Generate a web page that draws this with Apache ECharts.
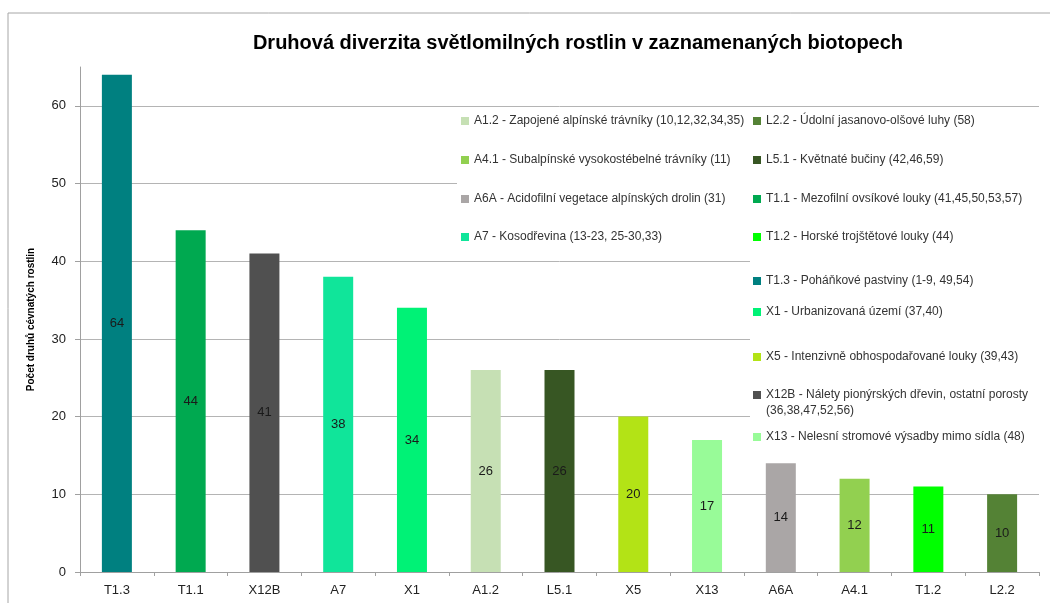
<!DOCTYPE html>
<html>
<head>
<meta charset="utf-8">
<script src="https://cdn.jsdelivr.net/npm/echarts@6/dist/echarts.min.js"></script>
<style>
  html, body { margin: 0; padding: 0; background: #fff; }
  #chart { width: 1050px; height: 603px; }
</style>
</head>
<body>
<div id="chart"></div>
<script>
// Biotope codes, in the order the bars are drawn
const categories = ['T1.3', 'T1.1', 'X12B', 'A7', 'X1', 'A1.2', 'L5.1', 'X5', 'X13', 'A6A', 'A4.1', 'T1.2', 'L2.2'];
// Number of vascular plant species per biotope
const values = [64, 44, 41, 38, 34, 26, 26, 20, 17, 14, 12, 11, 10];
// Bar colour per biotope
const barColors = ['#008080', '#00A950', '#505050', '#10E59A', '#00F276', '#C6E0B4', '#375623', '#B3E316', '#98FB98', '#AAA6A6', '#92D050', '#00FF00', '#548235'];
// Full biotope names shown in the legend
const biotopeNames = {
  'A1.2': 'A1.2 - Zapojené alpínské trávníky (10,12,32,34,35)',
  'A4.1': 'A4.1 - Subalpínské vysokostébelné trávníky (11)',
  'A6A': 'A6A - Acidofilní vegetace alpínských drolin (31)',
  'A7': 'A7 - Kosodřevina (13-23, 25-30,33)',
  'L2.2': 'L2.2 - Údolní jasanovo-olšové luhy (58)',
  'L5.1': 'L5.1 - Květnaté bučiny (42,46,59)',
  'T1.1': 'T1.1 - Mezofilní ovsíkové louky (41,45,50,53,57)',
  'T1.2': 'T1.2 - Horské trojštětové louky (44)',
  'T1.3': 'T1.3 - Poháňkové pastviny (1-9, 49,54)',
  'X1': 'X1 - Urbanizovaná území (37,40)',
  'X5': 'X5 - Intenzivně obhospodařované louky (39,43)',
  'X12B': 'X12B - Nálety pionýrských dřevin, ostatní porosty\n(36,38,47,52,56)',
  'X13': 'X13 - Nelesní stromové výsadby mimo sídla (48)'
};
// Y axis ticks
const yTicks = { min: 0, max: 65, interval: 10 };

// Legend layout: [code, left, icon centre y]
const legendLayout = [
  ['A1.2', 461, 122], ['A4.1', 461, 161], ['A6A', 461, 200], ['A7', 461, 238],
  ['L2.2', 753, 122], ['L5.1', 753, 161], ['T1.1', 753, 200], ['T1.2', 753, 238],
  ['T1.3', 753, 282], ['X1', 753, 313], ['X5', 753, 358], ['X12B', 753, 395], ['X13', 753, 438]
];

const FONT = '"Liberation Sans", Arial, sans-serif';

const series = categories.map((code, i) => ({
  type: 'bar',
  name: biotopeNames[code],
  data: values.map((v, j) => (j === i ? v : '-')),
  barWidth: 30,
  barGap: '-100%',
  itemStyle: { color: barColors[i] },
  label: { show: true, position: 'inside', color: '#1a1a1a', fontSize: 13, fontFamily: FONT },
  emphasis: { disabled: true }
}));

const legends = legendLayout.map(([code, left, cy]) => {
  const twoLine = biotopeNames[code].indexOf('\n') >= 0;
  const ts = { fontSize: 12, color: '#333', fontFamily: FONT };
  if (twoLine) ts.lineHeight = 16;
  return {
    data: [biotopeNames[code]],
    // a wrapped name keeps its first line level with the marker
    formatter: twoLine ? (name) => ' \n' + name : undefined,
    left: left,
    top: twoLine ? cy - 24 : cy - 7,
    orient: 'vertical',
    padding: 0,
    itemWidth: 8,
    itemHeight: 8,
    icon: 'rect',
    selectedMode: false,
    textStyle: ts
  };
});

const chart = echarts.init(document.getElementById('chart'), null, { renderer: 'canvas' });
chart.setOption({
  animation: false,
  backgroundColor: '#fff',
  title: {
    text: 'Druhová diverzita světlomilných rostlin v zaznamenaných biotopech',
    left: 573, top: 28, textAlign: 'center',
    textStyle: { fontSize: 20, fontWeight: 'bold', color: '#000', fontFamily: FONT }
  },
  grid: { left: 80, right: 11, top: 67, bottom: 31, containLabel: false },
  legend: legends,
  graphic: {
    elements: [
      // chart frame
      { type: 'rect', shape: { x: 8, y: 13, width: 1100, height: 700 }, style: { fill: 'none', stroke: '#a6a6a6', lineWidth: 1 }, z: 0, silent: true },
      // white legend backdrop over the gridlines
      { type: 'rect', shape: { x: 457, y: 110, width: 584, height: 143 }, style: { fill: '#fff' }, z: 1, silent: true },
      { type: 'rect', shape: { x: 750, y: 110, width: 291, height: 362 }, style: { fill: '#fff' }, z: 1, silent: true }
    ]
  },
  xAxis: {
    type: 'category',
    data: categories,
    axisLine: { lineStyle: { color: '#a0a0a0' } },
    axisTick: { show: true, length: 4, lineStyle: { color: '#a0a0a0' } },
    axisLabel: { color: '#222', fontSize: 13, margin: 12, fontFamily: FONT }
  },
  yAxis: {
    type: 'value',
    min: yTicks.min, max: yTicks.max, interval: yTicks.interval,
    name: 'Počet druhů cévnatých rostlin',
    nameLocation: 'middle',
    nameGap: 44,
    nameTextStyle: { fontSize: 10, fontWeight: 'bold', color: '#000', fontFamily: FONT },
    axisLine: { show: true, lineStyle: { color: '#a0a0a0' } },
    axisTick: { show: true, length: 5, lineStyle: { color: '#a0a0a0' } },
    axisLabel: { color: '#222', fontSize: 13, margin: 14, showMaxLabel: false, fontFamily: FONT },
    splitLine: { show: true, showMaxLine: false, lineStyle: { color: '#b4b4b4' } }
  },
  series: series
});
</script>
</body>
</html>
